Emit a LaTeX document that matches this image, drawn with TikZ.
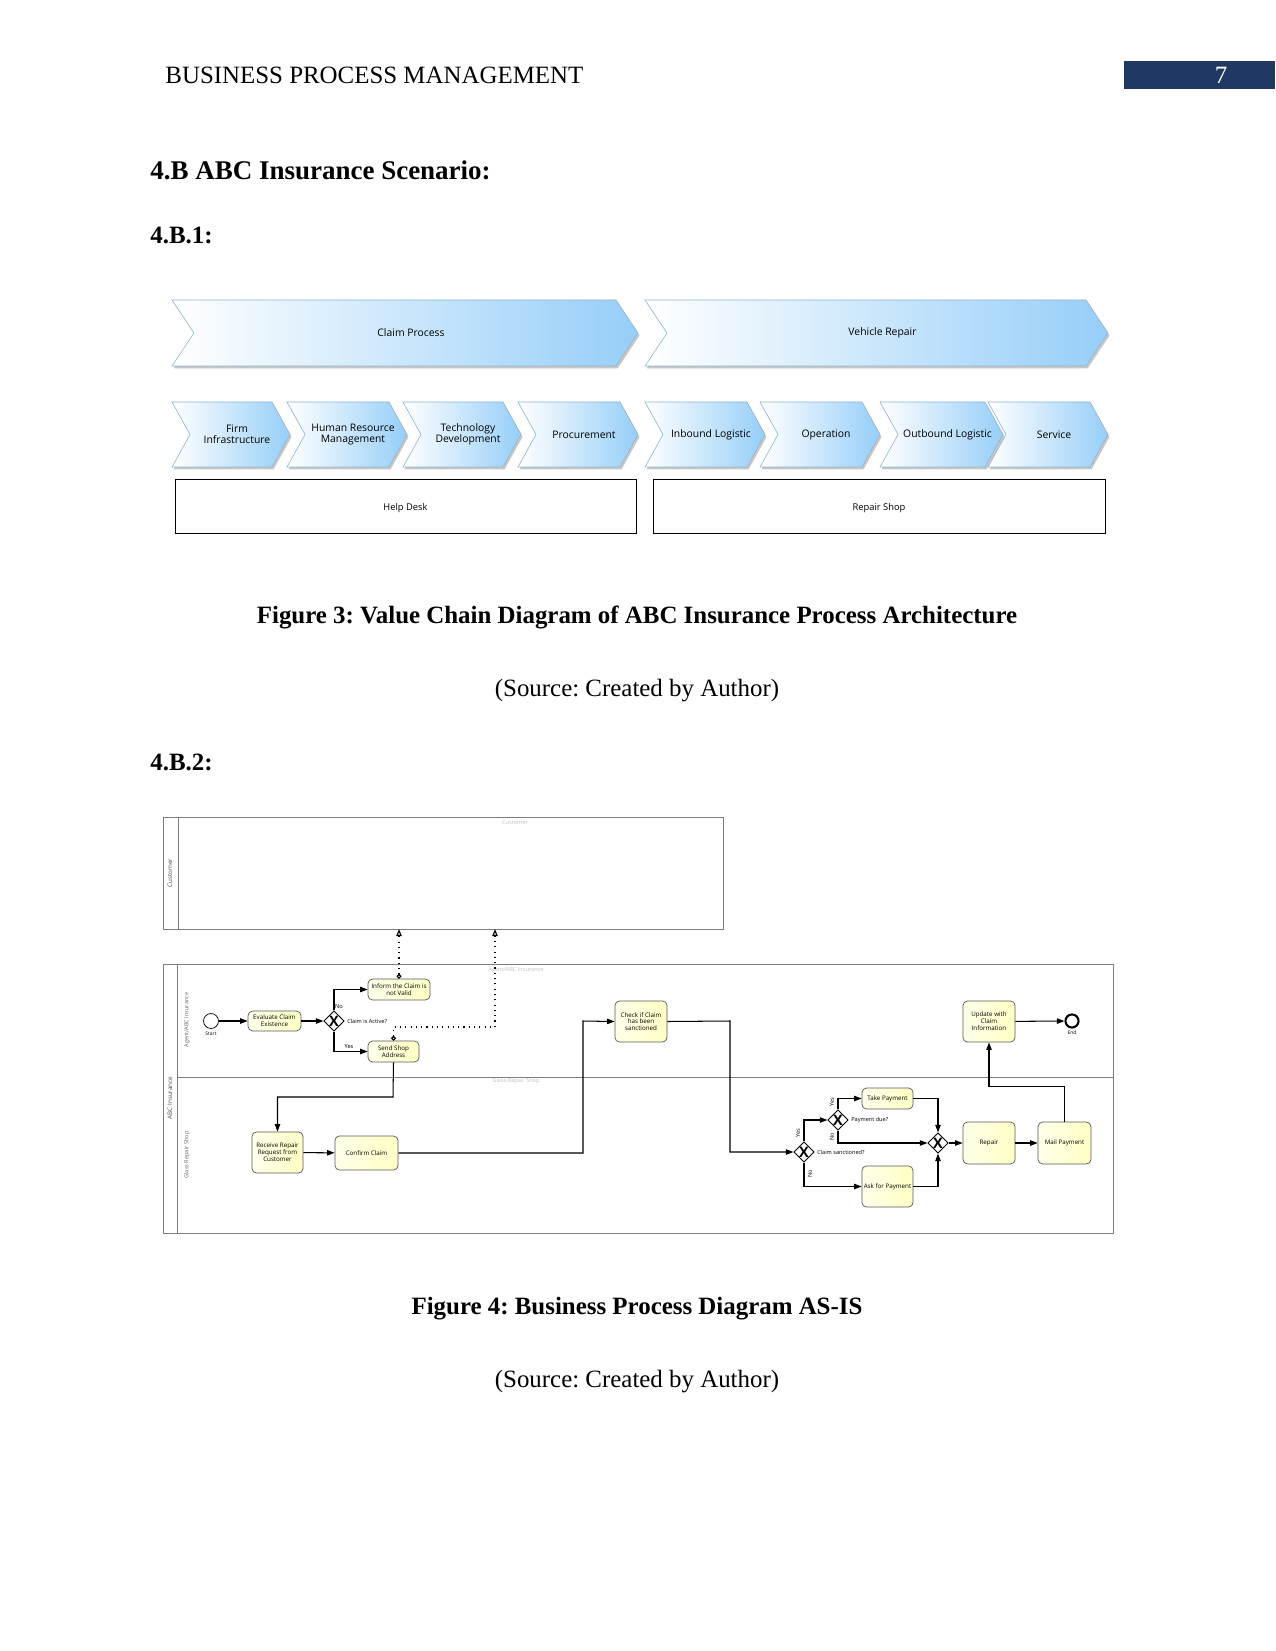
\documentclass[tikz,border=0pt]{standalone}
\usepackage{fontspec}
\setmainfont{Liberation Serif}
\newfontfamily\diafont{Open Sans}
\usetikzlibrary{positioning}
\usetikzlibrary{arrows.meta}
\usetikzlibrary{shapes.geometric}
\frenchspacing
\definecolor{navy}{RGB}{31,56,100}
\definecolor{vcblue}{RGB}{150,206,248}
\definecolor{taskyel}{RGB}{255,255,196}
\definecolor{poolgray}{RGB}{125,125,125}
\tikzset{vctext/.style={font=\diafont\fontsize{5}{5.4}\selectfont,align=center,inner sep=0pt}}
\tikzset{task/.style={rectangle,rounded corners=2.2pt,draw=black!65,line width=0.35pt,left color=taskyel!35!white,right color=taskyel,font=\diafont\fontsize{3}{3.3}\selectfont,align=center,inner sep=0pt}}
\tikzset{gate/.style={diamond,draw,line width=0.4pt,fill=white,minimum size=9.8pt,inner sep=0pt,font=\diafont\bfseries\fontsize{7}{7}\selectfont}}
\tikzset{flow/.style={-{Triangle[length=3.6pt,width=2.6pt]},line width=0.5pt}}
\tikzset{msg/.style={dotted,line width=0.55pt,{Circle[open,length=2.3pt]}-{Triangle[open,length=3.4pt,width=2.6pt]}}}
\tikzset{lbl/.style={font=\diafont\fontsize{2.7}{3}\selectfont,inner sep=0.4pt}}
\tikzset{pool/.style={draw=poolgray,line width=0.45pt}}
\tikzset{faint/.style={font=\diafont\fontsize{2.7}{3}\selectfont,text=black!25}}
\tikzset{body/.style={font=\fontsize{12}{14}\selectfont,inner sep=0pt}}
% chevron of the value chain: name, x1, x2, ytop, ybottom, depth, text
\newcommand\vcstep[7]{%
  \fill[black!22,shift={(1.5,2.5)}] (#2,#4) -- ({#3-#6},#4) -- (#3,{(#4+#5)/2}) -- ({#3-#6},#5) -- (#2,#5) -- ({#2+#6},{(#4+#5)/2}) -- cycle;
  \shade[left color=white,right color=vcblue,draw=vcblue!70!gray,line width=0.3pt] (#2,#4) -- ({#3-#6},#4) -- (#3,{(#4+#5)/2}) -- ({#3-#6},#5) -- (#2,#5) -- ({#2+#6},{(#4+#5)/2}) -- cycle;
  \node[vctext] (#1) at ({(#2+#3)/2+6},{(#4+#5)/2}) {#7};}

\begin{document}
\begin{tikzpicture}[x=0.4818pt,y=-0.4818pt]
\useasboundingbox (0,0) rectangle (1275,1651);

% page header
\node[body,anchor=west] (head) at (165,75) {BUSINESS PROCESS MANAGEMENT};
\fill[navy] (1124,61) rectangle (1275,89);
\node[body,text=white] (page) at (1221,75) {7};

\node[body,anchor=west,font=\bfseries\fontsize{13}{15}\selectfont] (sec) at (150,170) {4.B ABC Insurance Scenario:};
\node[body,anchor=west,font=\bfseries\fontsize{12}{14}\selectfont] (sub1) at (150,235) {4.B.1:};

% value chain
\vcstep{claim}{172}{638}{300}{366}{22}{Claim Process}
\vcstep{vehicle}{645}{1108}{300}{366}{22}{Vehicle Repair}
\vcstep{firm}{172}{290}{402}{467}{18}{Firm\\Infrastructure}
\vcstep{hrm}{287}{407}{402}{467}{18}{Human Resource\\Management}
\vcstep{tech}{403}{521}{402}{467}{18}{Technology\\Development}
\vcstep{proc}{518}{638}{402}{467}{18}{Procurement}
\vcstep{inbound}{645}{765}{402}{467}{18}{Inbound Logistic}
\vcstep{oper}{760}{880}{402}{467}{18}{Operation}
\vcstep{outbound}{880}{1003}{402}{467}{18}{Outbound Logistic}
\vcstep{service}{988}{1108}{402}{467}{18}{Service}

\draw[line width=0.4pt] (175,479) rectangle (636,533);
\node[vctext,font=\diafont\fontsize{4.5}{5}\selectfont] (help) at (405.5,508) {Help Desk};
\draw[line width=0.4pt] (653,479) rectangle (1105,533);
\node[vctext,font=\diafont\fontsize{4.5}{5}\selectfont] (shop) at (879,508) {Repair Shop};

\node[body,font=\bfseries\fontsize{12}{14}\selectfont] (fig3) at (637,617) {Figure 3: Value Chain Diagram of ABC Insurance Process Architecture};
\node[body] (src3) at (637,691) {(Source: Created by Author)};
\node[body,anchor=west,font=\bfseries\fontsize{12}{14}\selectfont] (sub2) at (150,762) {4.B.2:};

% pools and lanes
\draw[pool] (163,817) rectangle (723,929);
\draw[pool] (178,817) -- (178,929);
\node[lbl,rotate=90,text=black!70,font=\diafont\fontsize{3}{3}\selectfont] (custlbl) at (170,873) {Customer};
\node[faint] (custname) at (515,822) {Customer};
\coordinate (custbot) at (0,929);

\draw[pool] (163,964) rectangle (1113,1233);
\draw[pool] (177,964) -- (177,1233);
\draw[pool] (177,1077) -- (1113,1077);
\node[lbl,rotate=90,text=black!70,font=\diafont\fontsize{3}{3}\selectfont] (abclbl) at (170,1098) {ABC Insurance};
\node[lbl,rotate=90,text=black!60] (agentlbl) at (187,1020) {Agent/ABC Insurance};
\node[lbl,rotate=90,text=black!60] (glasslbl) at (187,1155) {Glass Repair Shop};
\node[faint] (agentname) at (516,970) {Agent/ABC Insurance};
\node[faint] (glassname) at (516,1081) {Glass Repair Shop};

% events, tasks, gateways
\node[circle,draw,line width=0.35pt,minimum size=7.2pt,inner sep=0pt] (start) at (211,1021) {};
\node[lbl,font=\diafont\fontsize{2.4}{3}\selectfont] (startlbl) at (211,1034) {Start};
\node[task,minimum width=25.5pt,minimum height=9.6pt] (eval) at (274.5,1021) {Evaluate Claim\\Existence};
\node[gate] (active) at (334,1021) {X};
\node[task,minimum width=29.9pt,minimum height=10.1pt] (inform) at (399,989.5) {Inform the Claim is\\not Valid};
\node[task,minimum width=24.6pt,minimum height=10.1pt] (send) at (393.5,1051.5) {Send Shop\\Address};
\node[task,minimum width=24.6pt,minimum height=19.8pt] (receive) at (277.5,1152.5) {Receive Repair\\Request from\\Customer};
\node[task,minimum width=30.4pt,minimum height=16.4pt] (confirm) at (366.5,1153) {Confirm Claim};
\node[task,minimum width=25.1pt,minimum height=19.8pt] (check) at (641,1021.5) {Check if Claim\\has been\\sanctioned};
\node[gate] (sanct) at (804,1152) {X};
\node[gate] (due) at (838,1120) {X};
\node[task,minimum width=24.6pt,minimum height=10.1pt] (take) at (887.5,1098.5) {Take Payment};
\node[task,minimum width=24.6pt,minimum height=19.8pt] (ask) at (887.5,1186.5) {Ask for Payment};
\node[gate] (merge) at (938,1143) {X};
\node[task,minimum width=25.1pt,minimum height=20.2pt] (repair) at (989,1143) {Repair};
\node[task,minimum width=25.5pt,minimum height=20.2pt] (mail) at (1064.5,1143) {Mail Payment};
\node[task,minimum width=25.1pt,minimum height=19.8pt] (update) at (989,1021.5) {Update with\\Claim\\Information};
\node[circle,draw,line width=1pt,minimum size=6.3pt,inner sep=0pt] (end) at (1072,1021) {};
\node[lbl,font=\diafont\fontsize{2.4}{3}\selectfont] (endlbl) at (1072,1033) {End};

\coordinate (b1) at (393,1097);
\coordinate (b2) at (583,1021);
\coordinate (b3) at (730,1021);
\coordinate (m1) at (495,1027);

% sequence flows
\draw[flow] (start) -- (eval);
\draw[flow] (eval) -- (active);
\draw[flow] (active.north) |- (inform.west);
\draw[flow] (active.south) |- (send.west);
\draw[flow] (send.south) -- (b1) -| (receive.north);
\draw[flow] (receive) -- (confirm);
\draw[flow] (confirm.east) -| (b2) -- (check.west);
\draw[flow] (check.east) -- (b3) |- (sanct.west);
\draw[flow] (sanct.north) |- (due.west);
\draw[flow] (due.north) |- (take.west);
\draw[flow] (take.east) -| (merge.north);
\draw[flow] (due.south) |- (merge.west);
\draw[flow] (sanct.south) |- (ask.west);
\draw[flow] (ask.east) -| (merge.south);
\draw[flow] (merge) -- (repair);
\draw[flow] (repair) -- (mail);
\draw[flow] (mail.north) -- ++(0,-35) -| (update.south);
\draw[flow] (update) -- (end);

% message flows
\draw[msg] (inform.north) -- (inform.north |- custbot);
\draw[msg] (send.north) |- (m1) -- (m1 |- custbot);

% gateway labels
\node[lbl,anchor=west] (activelbl) at (346,1021) {Claim is Active?};
\node[lbl] (nolbl1) at (339,1007) {No};
\node[lbl] (yeslbl1) at (349,1047) {Yes};
\node[lbl,anchor=west] (sanctlbl) at (816,1152) {Claim sanctioned?};
\node[lbl,anchor=west] (duelbl) at (850,1120) {Payment due?};
\node[lbl,rotate=90] (yeslbl2) at (798,1133) {Yes};
\node[lbl,rotate=90] (nolbl2) at (810,1174) {No};
\node[lbl,rotate=90] (yeslbl3) at (832,1102) {Yes};
\node[lbl,rotate=90] (nolbl3) at (832,1137) {No};

\node[body,font=\bfseries\fontsize{12}{14}\selectfont] (fig4) at (637,1309) {Figure 4: Business Process Diagram AS-IS};
\node[body] (src4) at (637,1382) {(Source: Created by Author)};
\end{tikzpicture}
\end{document}
